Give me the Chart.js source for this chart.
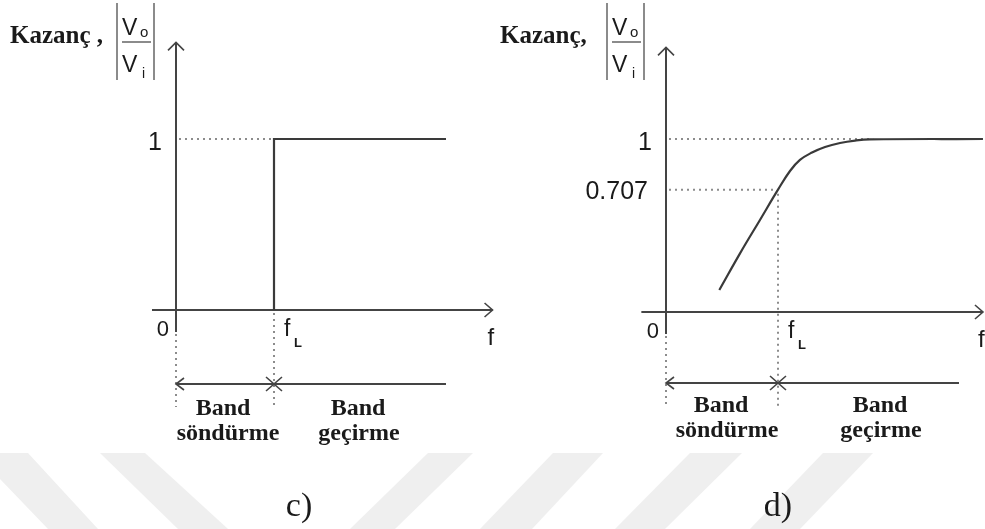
<!DOCTYPE html>
<html>
<head>
<meta charset="utf-8">
<script src="https://cdn.jsdelivr.net/npm/chart.js@4.4.0/dist/chart.umd.min.js"></script>
<style>
  html, body { margin: 0; padding: 0; background: #fff; }
  #wrap { position: relative; width: 985px; height: 529px; }
</style>
</head>
<body>
<div id="wrap"><canvas id="grafico" width="985" height="529"></canvas></div>
<script>
// c) ideal yuksek geciren filtre
var idealF = [1, 1, 2.755];
var idealGain = [0, 1, 1];
// d) gercek yuksek geciren filtre
var realF = [0.476, 0.661, 0.839, 1.0, 1.107, 1.196, 1.304, 1.42, 1.554, 1.688, 1.821, 2.83];
var realGain = [0.127, 0.339, 0.532, 0.707, 0.815, 0.879, 0.922, 0.954, 0.977, 0.991, 0.998, 1.0];
// eksen etiketleri
var cutoffF = 1;
var yTicksC = [1];
var yTicksD = [1, 0.707];
var bandLabels = [["Band", "söndürme"], ["Band", "geçirme"]];

var W = 985, H = 529;
var SERIF = "'Liberation Serif', 'Times New Roman', serif";
var SANS = "'Liberation Sans', Arial, sans-serif";

// yerlesim (piksel)
var panel = {
  c: { x0: 176, xUnit: 98, y0: 310, yUnit: 171, xStart: -0.245, xEnd: 3.23, yTop: 1.565,
       oneTo: 1, bandEnd: 2.755, bandY: 384, dotEnd: 407, kazanc: "Kazanç ,",
       bandX: [[223, 228], [358, 359]], bandTxtY: [415, 440], caption: "c)", capX: 299 },
  d: { x0: 666, xUnit: 112, y0: 312, yUnit: 173, xStart: -0.22, xEnd: 2.83, yTop: 1.53,
       oneTo: 1.85, bandEnd: 2.616, bandY: 383, dotEnd: 407, kazanc: "Kazanç,",
       bandX: [[721, 727], [880, 881]], bandTxtY: [412, 437], caption: "d)", capX: 778 }
};

function eksen(p) {
  return {
    x: { type: 'linear', display: false, min: -p.x0 / p.xUnit, max: (W - p.x0) / p.xUnit },
    y: { type: 'linear', display: false, min: -(H - p.y0) / p.yUnit, max: p.y0 / p.yUnit }
  };
}

function puntos(xs, ys) {
  return xs.map(function (v, i) { return { x: v, y: ys[i] }; });
}

function ok(ctx, x, y, dx, dy, len, half) {
  ctx.beginPath();
  ctx.moveTo(x - dx * len - dy * half, y - dy * len + dx * half);
  ctx.lineTo(x, y);
  ctx.lineTo(x - dx * len + dy * half, y - dy * len - dx * half);
  ctx.stroke();
}

function texto(ctx, s, x, y, font, align) {
  ctx.font = font;
  ctx.textAlign = align || 'left';
  ctx.textBaseline = 'alphabetic';
  ctx.fillText(s, x, y);
}

function dibujar_panel(chart, key) {
  var p = panel[key];
  var xs = chart.scales['x' + key], ys = chart.scales['y' + key];
  var X = function (v) { return xs.getPixelForValue(v); };
  var Y = function (v) { return ys.getPixelForValue(v); };
  var ctx = chart.ctx;
  var x0 = X(0), y0 = Y(0), xL = X(cutoffF);

  ctx.save();
  ctx.lineCap = 'butt';
  // lineas punteadas
  ctx.strokeStyle = '#8c8c8c';
  ctx.lineWidth = 2;
  ctx.setLineDash([2, 4]);
  ctx.beginPath();
  ctx.moveTo(x0 + 3, Y(1)); ctx.lineTo(X(p.oneTo), Y(1));
  if (key == 'd') {
    ctx.moveTo(x0 + 3, Y(0.707)); ctx.lineTo(xL - 3, Y(0.707));
    ctx.moveTo(xL, Y(0.707) + 4); ctx.lineTo(xL, p.dotEnd);
  } else {
    ctx.moveTo(xL, y0 + 3); ctx.lineTo(xL, p.dotEnd);
  }
  ctx.moveTo(x0, y0 + 24); ctx.lineTo(x0, p.dotEnd);
  ctx.stroke();
  ctx.setLineDash([]);

  // ejes
  ctx.strokeStyle = '#444';
  ctx.lineWidth = 2;
  ctx.beginPath();
  ctx.moveTo(X(p.xStart), y0); ctx.lineTo(X(p.xEnd), y0);
  ctx.moveTo(x0, Y(p.yTop)); ctx.lineTo(x0, y0 + 22);
  ctx.stroke();
  ctx.lineWidth = 1.6;
  ok(ctx, X(p.xEnd), y0, 1, 0, 8, 7);
  ok(ctx, x0, Y(p.yTop), 0, -1, 8, 8);

  // flechas de banda
  ctx.lineWidth = 2;
  ctx.beginPath();
  ctx.moveTo(x0, p.bandY); ctx.lineTo(X(p.bandEnd), p.bandY);
  ctx.stroke();
  ctx.lineWidth = 1.6;
  ok(ctx, x0, p.bandY, -1, 0, 8, 6);
  ok(ctx, xL, p.bandY, 1, 0, 8, 7);
  ok(ctx, xL, p.bandY, -1, 0, 8, 7);

  // |Vo/Vi|
  ctx.strokeStyle = '#666';
  ctx.lineWidth = 1.5;
  ctx.beginPath();
  ctx.moveTo(x0 - 59, 3); ctx.lineTo(x0 - 59, 80);
  ctx.moveTo(x0 - 22, 3); ctx.lineTo(x0 - 22, 80);
  ctx.moveTo(x0 - 54, 42); ctx.lineTo(x0 - 25, 42);
  ctx.stroke();

  ctx.fillStyle = '#1a1a1a';
  texto(ctx, p.kazanc, x0 - 166, 43, 'bold 25px ' + SERIF);
  texto(ctx, 'V', x0 - 54, 35, '23px ' + SANS);
  texto(ctx, 'o', x0 - 36, 37, '15px ' + SANS);
  texto(ctx, 'V', x0 - 54, 72, '23px ' + SANS);
  texto(ctx, 'i', x0 - 34, 78, '14px ' + SANS);

  // marcas
  var ticks = key == 'c' ? yTicksC : yTicksD;
  ticks.forEach(function (t) {
    var off = t == 1 ? 14 : 18;
    texto(ctx, String(t), x0 - off, Y(t) + (t == 1 ? 11 : 9), '25px ' + SANS, 'right');
  });
  texto(ctx, '0', x0 - 7, y0 + 26, '22px ' + SANS, 'right');
  texto(ctx, 'f', xL + 10, y0 + 26, '23px ' + SANS);
  texto(ctx, 'L', xL + 20, y0 + 37, 'bold 13px ' + SANS);
  texto(ctx, 'f', X(p.xEnd) - 5, y0 + 35, '24px ' + SANS);

  // bandas
  bandLabels.forEach(function (b, i) {
    texto(ctx, b[0], p.bandX[i][0], p.bandTxtY[0], 'bold 24px ' + SERIF, 'center');
    texto(ctx, b[1], p.bandX[i][1], p.bandTxtY[1], 'bold 24px ' + SERIF, 'center');
  });

  texto(ctx, p.caption, p.capX, 516, '34px ' + SERIF, 'center');
  ctx.restore();
}

var decorado = {
  id: 'decorado',
  beforeDraw: function (chart) {
    var ctx = chart.ctx;
    ctx.save();
    ctx.fillStyle = '#fff';
    ctx.fillRect(0, 0, W, H);
    // marca de agua
    ctx.fillStyle = '#efefef';
    var franjas = [
      [[-25, 453], [28, 453], [98, 529], [48, 529]],
      [[100, 453], [145, 453], [228, 529], [178, 529]],
      [[428, 453], [473, 453], [395, 529], [350, 529]],
      [[553, 453], [603, 453], [532, 529], [480, 529]],
      [[690, 453], [742, 453], [665, 529], [615, 529]],
      [[823, 453], [873, 453], [800, 529], [750, 529]]
    ];
    franjas.forEach(function (f) {
      ctx.beginPath();
      ctx.moveTo(f[0][0], f[0][1]);
      for (var i = 1; i < f.length; i++) ctx.lineTo(f[i][0], f[i][1]);
      ctx.closePath();
      ctx.fill();
    });
    ctx.restore();
  },
  beforeDatasetsDraw: function (chart) {
    dibujar_panel(chart, 'c');
    dibujar_panel(chart, 'd');
  }
};

var ec = eksen(panel.c), ed = eksen(panel.d);

var myChart = new Chart(document.getElementById('grafico'), {
  type: 'line',
  data: {
    datasets: [
      {
        label: 'c',
        data: puntos(idealF, idealGain),
        xAxisID: 'xc', yAxisID: 'yc',
        borderColor: '#3a3a3a', borderWidth: 2.2,
        pointRadius: 0, tension: 0, clip: false
      },
      {
        label: 'd',
        data: puntos(realF, realGain),
        xAxisID: 'xd', yAxisID: 'yd',
        borderColor: '#3a3a3a', borderWidth: 2.2,
        pointRadius: 0, tension: 0.4, clip: false
      }
    ]
  },
  options: {
    responsive: false,
    animation: false,
    devicePixelRatio: 1,
    events: [],
    layout: { padding: 0 },
    plugins: { legend: { display: false }, tooltip: { enabled: false }, title: { display: false } },
    scales: { xc: ec.x, yc: ec.y, xd: ed.x, yd: ed.y }
  },
  plugins: [decorado]
});
</script>
</body>
</html>
